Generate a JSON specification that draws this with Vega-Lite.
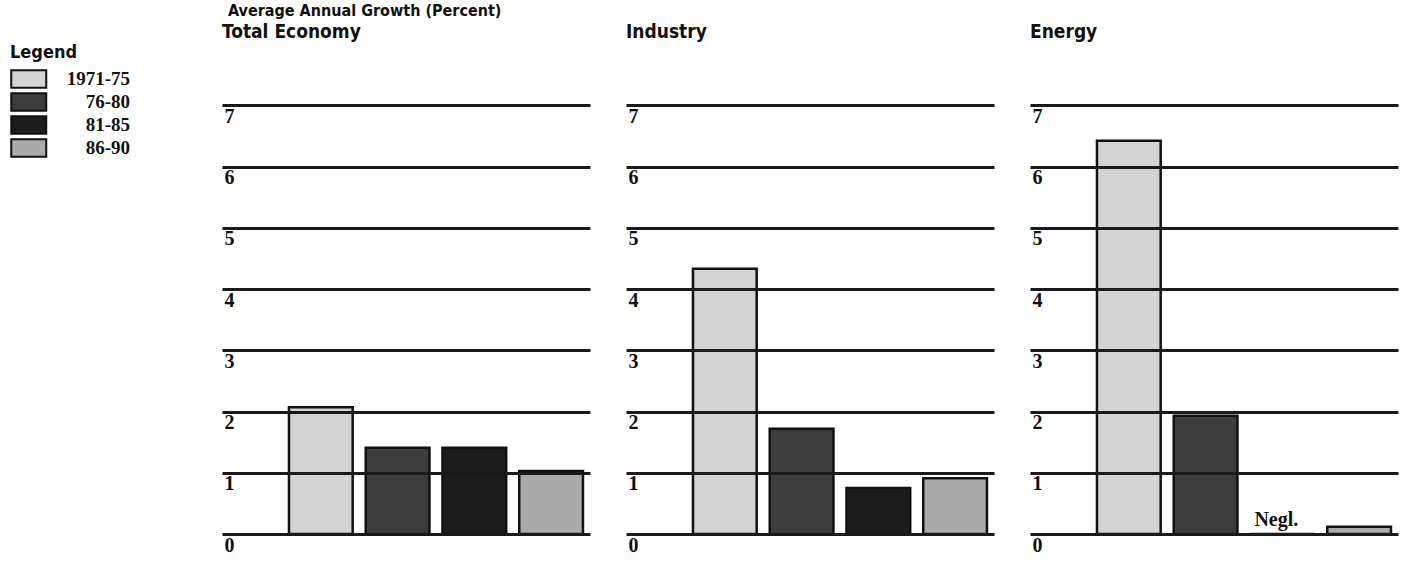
{
  "$schema": "https://vega.github.io/schema/vega-lite/v6.json",
  "background": "white",
  "padding": {"left": 10, "top": 3, "right": 2, "bottom": 2},
  "title": {"text": "Average Annual Growth (Percent)", "anchor": "start", "font": "Liberation Sans Narrow, DejaVu Sans Condensed, sans-serif", "fontSize": 16, "fontWeight": "bold", "color": "#111", "offset": 4, "dx": 218},
  "data": {"values": [
    {"sector": "Total Economy", "period": "1971-75", "growth": 2.07},
    {"sector": "Total Economy", "period": "76-80", "growth": 1.41},
    {"sector": "Total Economy", "period": "81-85", "growth": 1.41},
    {"sector": "Total Economy", "period": "86-90", "growth": 1.03},
    {"sector": "Industry", "period": "1971-75", "growth": 4.33},
    {"sector": "Industry", "period": "76-80", "growth": 1.72},
    {"sector": "Industry", "period": "81-85", "growth": 0.75},
    {"sector": "Industry", "period": "86-90", "growth": 0.91},
    {"sector": "Energy", "period": "1971-75", "growth": 6.42},
    {"sector": "Energy", "period": "76-80", "growth": 1.93},
    {"sector": "Energy", "period": "81-85", "growth": 0, "note": "Negl."},
    {"sector": "Energy", "period": "86-90", "growth": 0.12}
  ]},
  "facet": {"column": {"field": "sector", "type": "nominal", "sort": ["Total Economy", "Industry", "Energy"], "title": null,
    "header": {"labelAnchor": "start", "labelFont": "Liberation Sans Narrow, DejaVu Sans Condensed, sans-serif", "labelFontSize": 19, "labelFontWeight": "bold", "labelColor": "#111", "labelPadding": 2}}},
  "spacing": 36,
  "resolve": {"axis": {"y": "independent"}},
  "spec": {
    "width": 368,
    "height": 490,
    "layer": [
      {
        "mark": {"type": "bar", "stroke": "#111", "strokeWidth": 2.5},
        "encoding": {
          "x": {"field": "period", "type": "nominal", "sort": ["1971-75", "76-80", "81-85", "86-90"], "scale": {"paddingInner": 0.17, "paddingOuter": 0.482, "align": 0.905}, "axis": null},
          "y": {"field": "growth", "type": "quantitative", "scale": {"domain": [0, 8], "nice": false},
            "axis": {"values": [0, 1, 2, 3, 4, 5, 6, 7], "format": "d", "title": null, "domain": false, "ticks": false, "tickSize": 0, "labelAlign": "left", "labelBaseline": "top", "labelPadding": -2, "labelOffset": 1, "labelFont": "Liberation Serif", "labelFontSize": 20, "labelFontWeight": "bold", "labelColor": "#111", "grid": true, "gridColor": "#1a1a1a", "gridWidth": 3, "zindex": 1, "labelFlush": false, "labelOverlap": false}},
          "color": {"field": "period", "type": "nominal", "sort": ["1971-75", "76-80", "81-85", "86-90"],
            "scale": {"domain": ["1971-75", "76-80", "81-85", "86-90"], "range": ["#d4d4d4", "#3c3c3c", "#1c1c1c", "#ababab"]},
            "legend": {"orient": "none", "legendX": -212, "legendY": 0, "title": "Legend", "titleFont": "Liberation Sans Narrow, DejaVu Sans Condensed, sans-serif", "titleFontSize": 18, "titleFontWeight": "bold", "titleColor": "#111", "titlePadding": 7,
              "symbolType": "M-1,-1H3V1H-1Z", "symbolSize": 306, "symbolStrokeColor": "#111", "symbolStrokeWidth": 2, "symbolOpacity": 1,
              "labelFont": "Liberation Serif", "labelFontSize": 19, "labelFontWeight": "bold", "labelColor": "#111", "labelOffset": 100, "rowPadding": -4, "labelAlign": "right"}}
        }
      },
      {
        "transform": [{"filter": "datum.note"}],
        "mark": {"type": "text", "baseline": "bottom", "dy": -4, "dx": -6, "font": "Liberation Serif", "fontSize": 20, "fontWeight": "bold", "color": "#111"},
        "encoding": {
          "x": {"field": "period", "type": "nominal", "sort": ["1971-75", "76-80", "81-85", "86-90"], "bandPosition": 0.5},
          "y": {"field": "growth", "type": "quantitative"},
          "text": {"field": "note"}
        }
      }
    ]
  },
  "config": {"view": {"stroke": null}}
}
